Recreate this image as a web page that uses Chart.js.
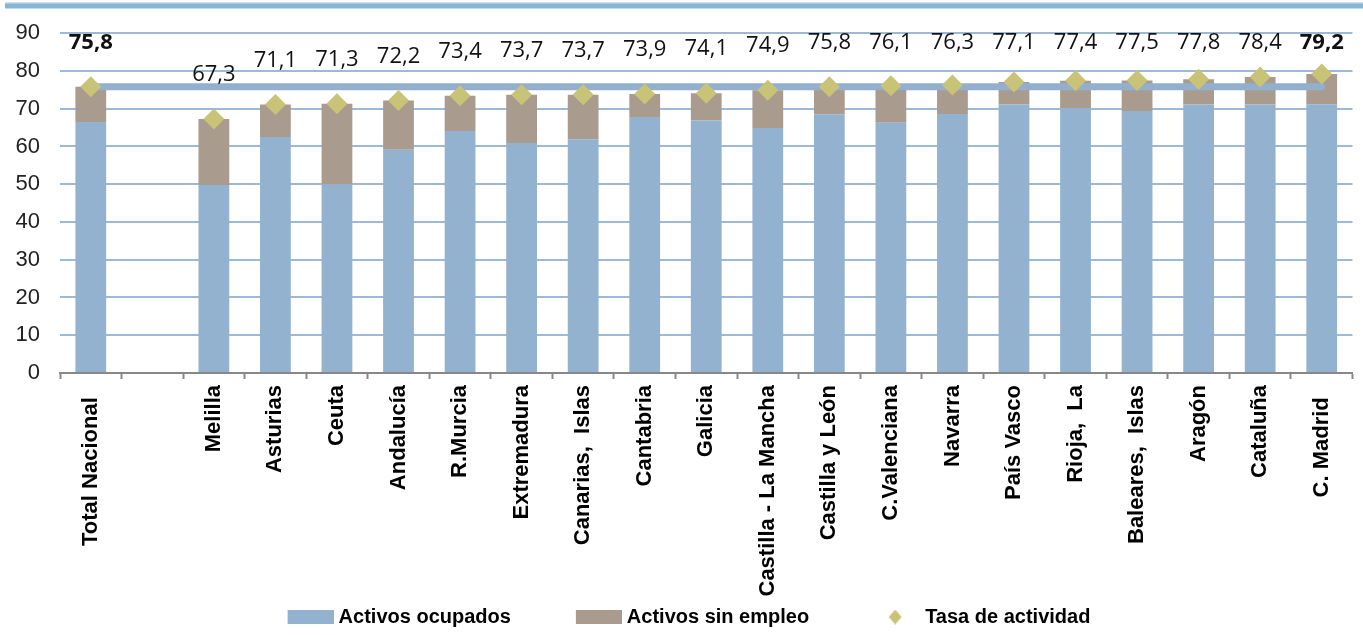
<!DOCTYPE html>
<html>
<head>
<meta charset="utf-8">
<script src="https://cdn.jsdelivr.net/npm/chart.js@4/dist/chart.umd.min.js"></script>
<style>
  html, body { margin: 0; padding: 0; background: #fff; }
  #wrap { width: 1363px; height: 635px; }
</style>
</head>
<body>
<div id="wrap"><canvas id="chart" width="1363" height="635"></canvas></div>
<script>
'use strict';

// categorias (trailing spaces push the two bold ends down like the original)
const categorias = [
  'Total Nacional  ', '', 'Melilla', 'Asturias', 'Ceuta', 'Andalucía', 'R.Murcia',
  'Extremadura', 'Canarias,  Islas', 'Cantabria', 'Galicia', 'Castilla - La Mancha',
  'Castilla y León', 'C.Valenciana', 'Navarra', 'País Vasco', 'Rioja,  La',
  'Baleares,  Islas', 'Aragón', 'Cataluña', 'C. Madrid  '
];
const activosOcupados = [
  66.5, null, 49.8, 62.5, 49.9, 59.1, 64.1, 60.9, 61.9, 67.8, 66.9,
  64.9, 68.5, 66.3, 68.6, 71.1, 70.1, 69.4, 71.1, 71.1, 71.2
];
const activosSinEmpleo = [
  9.3, null, 17.5, 8.6, 21.4, 13.1, 9.3, 12.8, 11.8, 6.1, 7.2,
  10.0, 7.3, 9.8, 7.7, 6.0, 7.3, 8.1, 6.7, 7.3, 8.0
];
const tasaActividad = [
  75.8, null, 67.3, 71.1, 71.3, 72.2, 73.4, 73.7, 73.7, 73.9, 74.1,
  74.9, 75.8, 76.1, 76.3, 77.1, 77.4, 77.5, 77.8, 78.4, 79.2
];
const mediaNacional = [
  75.8, 75.8, 75.8, 75.8, 75.8, 75.8, 75.8, 75.8, 75.8, 75.8, 75.8,
  75.8, 75.8, 75.8, 75.8, 75.8, 75.8, 75.8, 75.8, 75.8, 75.8
];
const destacados = [0, 20];
const yMin = 0;
const yMax = 90;
const yPaso = 10;

const AZUL = '#93b2cf';
const MARRON = '#a99b8d';
const OLIVA = '#c9c378';
const REJILLA = '#9cbad6';
const SANS = "'Liberation Sans', Arial, sans-serif";

// legend box is wide; the visible mark sits at its right end so the
// transparent part does the spacing between items
const CAJA = 102;
const icono = (color, rombo) => {
  const c = document.createElement('canvas');
  c.width = CAJA + 10;
  c.height = rombo ? 15 : 14;
  const g = c.getContext('2d');
  g.fillStyle = color;
  if (rombo) {
    const cx = c.width - 25;
    g.beginPath();
    g.moveTo(cx, 0);
    g.lineTo(cx + 6.5, 7.5);
    g.lineTo(cx, 15);
    g.lineTo(cx - 6.5, 7.5);
    g.closePath();
    g.fill();
  } else {
    g.fillRect(c.width - 46, 0, 46, 14);
  }
  return c;
};
const iconos = [icono(AZUL), icono(MARRON), icono(OLIVA, true)];

const bandaSuperior = {
  id: 'bandaSuperior',
  beforeDraw(chart) {
    const ctx = chart.ctx;
    ctx.save();
    ctx.fillStyle = '#cfe2ef';
    ctx.fillRect(5, 2, 1358, 2);
    ctx.fillStyle = '#86b6d6';
    ctx.fillRect(5, 3.5, 1358, 5);
    ctx.restore();
  }
};

const etiquetasTasa = {
  id: 'etiquetasTasa',
  afterDatasetsDraw(chart) {
    const ctx = chart.ctx;
    const meta = chart.getDatasetMeta(2);
    ctx.save();
    ctx.fillStyle = '#111';
    ctx.textAlign = 'center';
    ctx.textBaseline = 'middle';
    tasaActividad.forEach((v, i) => {
      if (v === null) return;
      const p = meta.data[i];
      const bold = destacados.includes(i);
      ctx.font = (bold ? 'bold ' : '') + "22px 'Open Sans', sans-serif";
      const y = Math.max(p.y - 44, 43);
      ctx.fillText(v.toFixed(1).replace('.', ','), p.x, y);
    });
    ctx.restore();
  }
};

new Chart(document.getElementById('chart'), {
  data: {
    labels: categorias,
    datasets: [
      {
        type: 'bar',
        label: 'Activos ocupados',
        data: activosOcupados,
        backgroundColor: AZUL,
        barPercentage: 0.5,
        categoryPercentage: 1,
        order: 2
      },
      {
        type: 'bar',
        label: 'Activos sin empleo',
        data: activosSinEmpleo,
        backgroundColor: MARRON,
        barPercentage: 0.5,
        categoryPercentage: 1,
        order: 2
      },
      {
        type: 'line',
        label: 'Tasa de actividad',
        data: tasaActividad,
        stack: 'tasa',
        showLine: false,
        pointStyle: 'rectRot',
        pointRadius: 10.5,
        pointBackgroundColor: OLIVA,
        pointBorderWidth: 0,
        backgroundColor: OLIVA,
        order: 0
      },
      {
        type: 'line',
        label: 'media',
        data: mediaNacional,
        stack: 'media',
        borderColor: '#92b0ce',
        borderWidth: 7,
        borderCapStyle: 'round',
        pointRadius: 0,
        order: 1
      }
    ]
  },
  options: {
    responsive: false,
    animation: false,
    // negative left padding only nudges the centred legend; the y axis gets it back
    layout: { padding: { top: 32, right: 8, left: -38, bottom: -2 } },
    scales: {
      x: {
        stacked: true,
        offset: true,
        afterFit: (s) => { s.height = 230; },
        border: { color: '#888', width: 2 },
        grid: {
          offset: true,
          drawOnChartArea: false,
          color: '#888',
          tickLength: 6,
          tickWidth: 2
        },
        ticks: {
          autoSkip: false,
          minRotation: 90,
          maxRotation: 90,
          padding: 6,
          color: '#000',
          font: { family: SANS, size: 22, weight: 'bold' }
        }
      },
      y: {
        stacked: true,
        min: yMin,
        max: yMax,
        afterFit: (s) => { s.width = 98; },
        border: { display: false },
        grid: { color: REJILLA, lineWidth: 2, drawTicks: false },
        ticks: {
          stepSize: yPaso,
          padding: 20,
          color: '#222',
          font: { family: SANS, size: 22 }
        }
      }
    },
    plugins: {
      tooltip: { enabled: false },
      legend: {
        position: 'bottom',
        labels: {
          usePointStyle: true,
          pointStyleWidth: CAJA,
          padding: 4,
          color: '#000',
          font: { family: SANS, size: 20, weight: 'bold' },
          sort: (a, b) => a.datasetIndex - b.datasetIndex,
          generateLabels: (chart) => Chart.defaults.plugins.legend.labels.generateLabels(chart)
            .filter((item) => item.datasetIndex < 3)
            .map((item) => Object.assign(item, { pointStyle: iconos[item.datasetIndex] }))
        }
      }
    }
  },
  plugins: [bandaSuperior, etiquetasTasa]
});
</script>
</body>
</html>
